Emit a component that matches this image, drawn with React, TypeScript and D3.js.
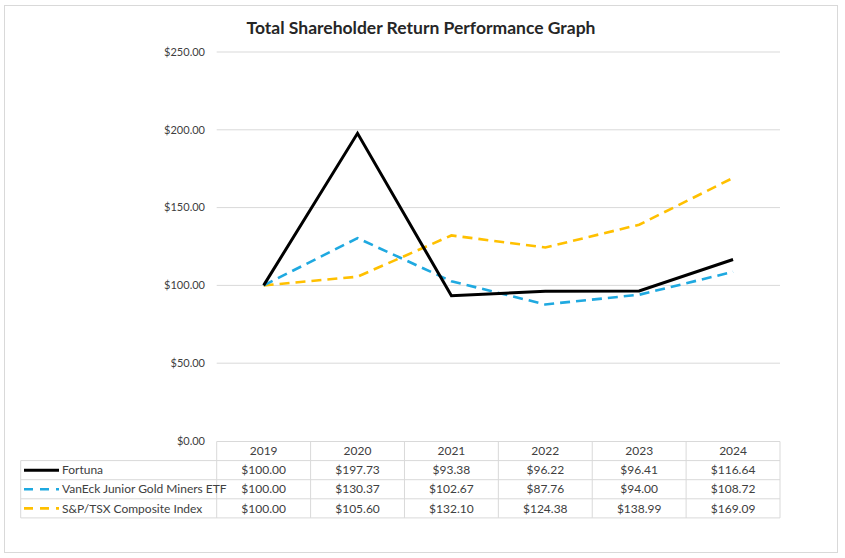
import * as d3 from "d3";

const years = ["2019", "2020", "2021", "2022", "2023", "2024"];
const fortuna = [100.0, 197.73, 93.38, 96.22, 96.41, 116.64];
const vaneck = [100.0, 130.37, 102.67, 87.76, 94.0, 108.72];
const tsx = [100.0, 105.6, 132.1, 124.38, 138.99, 169.09];
const yTicks = [0, 50, 100, 150, 200, 250];

const series = [
  { name: "Fortuna", values: fortuna, color: "#000000", dash: "", width: 3 },
  { name: "VanEck Junior Gold Miners ETF", values: vaneck, color: "#1FA9E0", dash: "10,6", width: 2.6 },
  { name: "S&P/TSX Composite Index", values: tsx, color: "#FFC000", dash: "10,6", width: 2.6 },
];

const W = 845;
const H = 558;
const font = "Lato, 'Open Sans', sans-serif";
const gridColor = "#d9d9d9";
const textColor = "#404040";

export default function App() {
  const x = d3.scaleBand().domain(years).range([216.7, 780]);
  const y = d3.scaleLinear().domain([0, 250]).range([441, 52]);
  const fmt = (v: number) => "$" + d3.format(",.2f")(v);

  const line = d3
    .line<number>()
    .x((_, i) => (x(years[i]) as number) + x.bandwidth() / 2)
    .y((d) => y(d));

  const tableTop = 441.5;
  const rowH = 19.1;
  const legendLeft = 20.7;

  return (
    <svg width={W} height={H} style={{ position: "absolute", left: 0, top: 0 }}>
      <rect x={0} y={0} width={W} height={H} fill="#fff" />
      <rect x={4.5} y={5.5} width={833} height={547} fill="none" stroke={gridColor} strokeWidth={1} />

      <text x={421} y={34} textAnchor="middle" fontFamily={font} fontWeight="bold" fontSize={17.5} fill="#262626">
        Total Shareholder Return Performance Graph
      </text>

      {/* gridlines and y labels */}
      {yTicks.map((t) => (
        <g key={t}>
          {t > 0 && (
            <line x1={216.7} x2={780} y1={y(t)} y2={y(t)} stroke={gridColor} strokeWidth={1} />
          )}
          <text x={205} y={y(t) + 3.8} textAnchor="end" fontFamily={font} fontSize={11} fill={textColor}>
            {fmt(t)}
          </text>
        </g>
      ))}

      {/* lines */}
      {series
        .slice()
        .reverse()
        .map((s) => (
          <path
            key={s.name}
            d={line(s.values) as string}
            fill="none"
            stroke={s.color}
            strokeWidth={s.width}
            strokeDasharray={s.dash}
            strokeLinejoin="miter"
          />
        ))}

      {/* data table */}
      <g fontFamily={font} fontSize={12} fill={textColor}>
        {/* horizontal lines */}
        <line x1={216.7} x2={780} y1={tableTop} y2={tableTop} stroke={gridColor} />
        {series.map((_, i) => (
          <line
            key={i}
            x1={legendLeft}
            x2={780}
            y1={tableTop + rowH * (i + 1)}
            y2={tableTop + rowH * (i + 1)}
            stroke={gridColor}
          />
        ))}
        <line x1={legendLeft} x2={780} y1={tableTop + rowH * 4} y2={tableTop + rowH * 4} stroke={gridColor} />
        {/* vertical lines */}
        <line x1={legendLeft} x2={legendLeft} y1={tableTop + rowH} y2={tableTop + rowH * 4} stroke={gridColor} />
        {years.map((yr) => (
          <line
            key={yr}
            x1={x(yr) as number}
            x2={x(yr) as number}
            y1={tableTop}
            y2={tableTop + rowH * 4}
            stroke={gridColor}
          />
        ))}
        <line x1={780} x2={780} y1={tableTop} y2={tableTop + rowH * 4} stroke={gridColor} />

        {years.map((yr) => (
          <text
            key={yr}
            x={(x(yr) as number) + x.bandwidth() / 2}
            y={tableTop + rowH / 2 + 4.2}
            textAnchor="middle"
            fill={textColor}
          >
            {yr}
          </text>
        ))}

        {series.map((s, i) => {
          const cy = tableTop + rowH * (i + 1) + rowH / 2;
          return (
            <g key={s.name}>
              <line
                x1={24}
                x2={59}
                y1={cy}
                y2={cy}
                stroke={s.color}
                strokeWidth={s.width}
                strokeDasharray={s.dash ? "9,7" : ""}
              />
              <text x={62} y={cy + 4.2} fill={textColor}>
                {s.name}
              </text>
              {s.values.map((v, j) => (
                <text
                  key={j}
                  x={(x(years[j]) as number) + x.bandwidth() / 2}
                  y={cy + 4.2}
                  textAnchor="middle"
                  fill={textColor}
                >
                  {fmt(v)}
                </text>
              ))}
            </g>
          );
        })}
      </g>
    </svg>
  );
}
